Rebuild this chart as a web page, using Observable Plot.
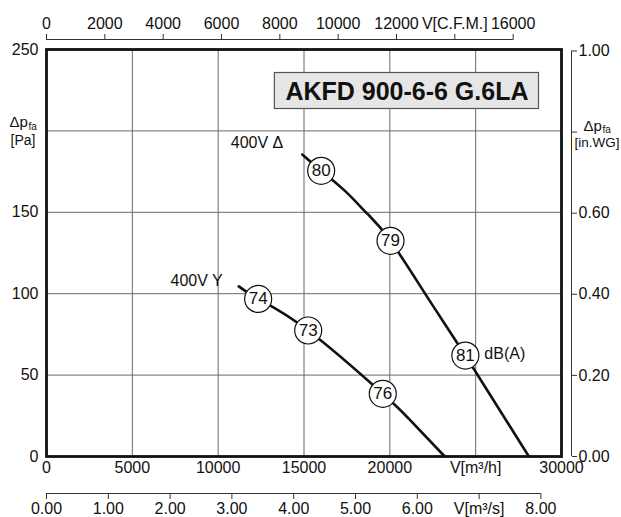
<!DOCTYPE html>
<html><head><meta charset="utf-8">
<script src="https://cdn.jsdelivr.net/npm/d3@7"></script>
<script src="https://cdn.jsdelivr.net/npm/@observablehq/plot@0.6"></script>
<style>
body{margin:0;background:#fff}
#chart svg{font-family:"Liberation Sans",Arial,sans-serif;overflow:visible}
</style>
</head><body><div id="chart"></div>
<script>
// ---- data ----
const title = "AKFD 900-6-6 G.6LA";
const seriesNames = ["400V Δ", "400V Y"];
const deltaFlow = [14900, 16000, 17400, 18700, 20040, 22270, 24400, 28100];
const deltaPressure = [185.5, 175.5, 163, 149, 132.5, 96.5, 62, 0];
const starFlow = [11200, 12330, 15245, 19590, 21100, 23200];
const starPressure = [104.5, 96.8, 77.4, 38.5, 23.2, 0];
const deltaDbFlow = [16000, 20040, 24400];
const deltaDbPressure = [175.5, 132.5, 62];
const deltaDb = [80, 79, 81];
const starDbFlow = [12330, 15245, 19590];
const starDbPressure = [96.8, 77.4, 38.5];
const starDb = [74, 73, 76];
const dbUnit = "dB(A)";
const flowDomain = [0, 30000];
const pressureDomain = [0, 250];
const flowTicks = [0, 5000, 10000, 15000, 20000, 25000, 30000];
const flowTickLabels = ["0", "5000", "10000", "15000", "20000", "V[m³/h]", "30000"];
const pressureTicks = [0, 50, 100, 150, 200, 250];
const pressureTickLabels = ["0", "50", "100", "150", "", "250"];
const cfmTicks = [0, 2000, 4000, 6000, 8000, 10000, 12000, 14000, 16000];
const cfmTickLabels = ["0", "2000", "4000", "6000", "8000", "10000", "12000", "V[C.F.M.]", "16000"];
const m3sTicks = [0, 1, 2, 3, 4, 5, 6, 7, 8];
const m3sTickLabels = ["0.00", "1.00", "2.00", "3.00", "4.00", "5.00", "6.00", "V[m³/s]", "8.00"];
const inwgTicks = [0, 0.2, 0.4, 0.6, 0.8, 1.0];
const inwgTickLabels = ["0.00", "0.20", "0.40", "0.60", "", "1.00"];
const pressureSymbol = "Δp", pressureSub = "fa";
const unitPa = "[Pa]", unitInWG = "[in.WG]";
const CFM = 1.69901, M3S = 3600, INWG = 249.089;

// ---- helpers ----
const toRows = (xs, ys) => xs.map((x, i) => ({x, y: ys[i]}));
const delta = toRows(deltaFlow, deltaPressure);
const star = toRows(starFlow, starPressure);
const deltaDots = deltaDbFlow.map((x, i) => ({x, y: deltaDbPressure[i], v: deltaDb[i]}));
const starDots = starDbFlow.map((x, i) => ({x, y: starDbPressure[i], v: starDb[i]}));
const labelMap = (ticks, labels, f = d => d) => { const m = new Map(); ticks.forEach((t, i) => m.set(f(t), labels[i])); return m; };
const flowMap = labelMap(flowTicks, flowTickLabels);
const presMap = labelMap(pressureTicks, pressureTickLabels);
const cfmMap = labelMap(cfmTicks, cfmTickLabels, d => d * CFM);
const m3sMap = labelMap(m3sTicks, m3sTickLabels, d => d * M3S);
const inwgMap = labelMap(inwgTicks, inwgTickLabels, d => d * INWG);
const FS = 16;
const grid = "#6a6a6a";

const chart = Plot.plot({
  width: 621, height: 517,
  marginLeft: 46, marginRight: 60, marginTop: 49, marginBottom: 61,
  x: {domain: flowDomain, label: null},
  y: {domain: pressureDomain, label: null},
  style: {fontSize: FS + "px", color: "#111"},
  marks: [
    Plot.gridX(flowTicks.slice(1, -1), {stroke: grid, strokeOpacity: 1, strokeWidth: 1}),
    Plot.gridY(pressureTicks.slice(1, -1), {stroke: grid, strokeOpacity: 1, strokeWidth: 1}),
    // main axes (labels only)
    Plot.axisX(flowTicks, {anchor: "bottom", label: null, tickSize: 0, tickPadding: 5, tickFormat: d => flowMap.get(d), fontSize: FS}),
    Plot.axisY(pressureTicks, {anchor: "left", label: null, tickSize: 0, tickPadding: 8, tickFormat: d => presMap.get(d), fontSize: FS}),
    // top CFM axis
    Plot.ruleY([pressureDomain[1]], {x1: 0, x2: cfmTicks[cfmTicks.length - 1] * CFM, dy: -10, stroke: "#333"}),
    Plot.axisX(cfmTicks.map(d => d * CFM), {anchor: "top", label: null, dy: -10, tickSize: 6, tickPadding: 5, tickFormat: d => cfmMap.get(d), fontSize: FS, stroke: "#333"}),
    // bottom m3/s axis
    Plot.ruleY([pressureDomain[0]], {x1: 0, x2: m3sTicks[m3sTicks.length - 1] * M3S, dy: 37, stroke: "#333"}),
    Plot.axisX(m3sTicks.map(d => d * M3S), {anchor: "bottom", label: null, dy: 37, tickSize: 6, tickPadding: 3, tickFormat: d => m3sMap.get(d), fontSize: FS, stroke: "#333"}),
    // right in.WG axis
    Plot.ruleX([flowDomain[1]], {y1: 0, y2: inwgTicks[inwgTicks.length - 1] * INWG, dx: 10, stroke: "#333"}),
    Plot.axisY(inwgTicks.map(d => d * INWG), {anchor: "right", label: null, dx: 10, tickSize: 5, tickPadding: 2, tickFormat: d => inwgMap.get(d), fontSize: FS, stroke: "#333"}),
    // unit labels
    Plot.text([pressureTicks[4]], {y: d => d, frameAnchor: "left", text: () => pressureSymbol, dx: -37, dy: -9, textAnchor: "start", fontSize: 15}),
    Plot.text([pressureTicks[4]], {y: d => d, frameAnchor: "left", text: () => pressureSub, dx: -18, dy: -4, textAnchor: "start", fontSize: 10}),
    Plot.text([pressureTicks[4]], {y: d => d, frameAnchor: "left", text: () => unitPa, dx: -36, dy: 10, textAnchor: "start", fontSize: 14}),
    Plot.text([inwgTicks[4] * INWG], {y: d => d, frameAnchor: "right", text: () => pressureSymbol, dx: 22, dy: -6, textAnchor: "start", fontSize: 15}),
    Plot.text([inwgTicks[4] * INWG], {y: d => d, frameAnchor: "right", text: () => pressureSub, dx: 41, dy: -2, textAnchor: "start", fontSize: 10}),
    Plot.text([inwgTicks[4] * INWG], {y: d => d, frameAnchor: "right", text: () => unitInWG, dx: 13, dy: 11, textAnchor: "start", fontSize: 13.5}),
    // curves
    Plot.line(delta, {x: "x", y: "y", curve: "natural", stroke: "#111", strokeWidth: 2.6}),
    Plot.line(star, {x: "x", y: "y", curve: "natural", stroke: "#111", strokeWidth: 2.6}),
    Plot.text([delta[0]], {x: "x", y: "y", text: () => seriesNames[0], dx: -19, dy: -12, textAnchor: "end", fontSize: FS}),
    Plot.text([star[0]], {x: "x", y: "y", text: () => seriesNames[1], dx: -16, dy: -5, textAnchor: "end", fontSize: FS}),
    Plot.dot(deltaDots.concat(starDots), {x: "x", y: "y", r: 13.5, fill: "white", stroke: "#111", strokeWidth: 1.2}),
    Plot.text(deltaDots.concat(starDots), {x: "x", y: "y", text: "v", fontSize: 17}),
    Plot.text([deltaDots[2]], {x: "x", y: "y", text: () => dbUnit, dx: 19, dy: -2, textAnchor: "start", fontSize: FS}),
    // title
    Plot.text([title], {frameAnchor: "top-right", text: d => d, dx: -33, dy: 42, textAnchor: "end", lineAnchor: "middle", fontSize: 25, fontWeight: "bold"}),
    Plot.frame({stroke: "#111", strokeWidth: 2.8})
  ]
});
document.getElementById("chart").appendChild(chart);

// box behind the title
const svg = d3.select(chart);
svg.selectAll("text").each(function() {
  if (this.textContent === title) {
    const b = this.getBBox();
    const ctm = this.getAttribute("transform");
    const g = this.parentNode;
    const r = document.createElementNS("http://www.w3.org/2000/svg", "rect");
    r.setAttribute("x", b.x - 11);
    r.setAttribute("y", b.y + b.height / 2 - 18);
    r.setAttribute("width", b.width + 21);
    r.setAttribute("height", 36);
    r.setAttribute("fill", "#e6e6e6");
    r.setAttribute("stroke", "#555");
    r.setAttribute("stroke-width", "1.2");
    if (ctm) r.setAttribute("transform", ctm);
    g.insertBefore(r, this);
  }
});
</script>
</body></html>
